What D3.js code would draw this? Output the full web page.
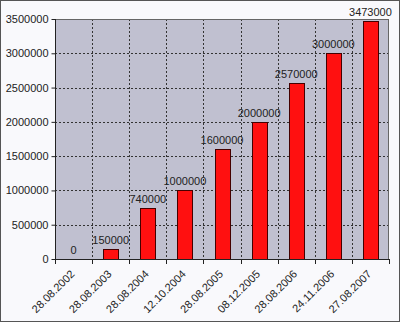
<!DOCTYPE html>
<html><head><meta charset="utf-8">
<script src="https://cdn.jsdelivr.net/npm/d3@7"></script>
<style>
html,body{margin:0;padding:0;background:#fff;}
svg{display:block;}
text{font-family:"Liberation Sans",Arial,sans-serif;font-size:11px;fill:#222;}
</style></head><body>
<svg id="c" width="400" height="322"></svg>
<script>
const categories = ["28.08.2002","28.08.2003","28.08.2004","12.10.2004","28.08.2005","08.12.2005","28.08.2006","24.11.2006","27.08.2007"];
const values = [0,150000,740000,1000000,1600000,2000000,2570000,3000000,3473000];
const yTicks = [0,500000,1000000,1500000,2000000,2500000,3000000,3500000];

const svg = d3.select("#c");
const W=400,H=322;
svg.append("rect").attr("x",0.5).attr("y",0.5).attr("width",W-1).attr("height",H-1)
  .attr("fill","#f9f9fc").attr("stroke","#555");

const m={l:55,t:19,r:389,b:259};
const defs=svg.append("defs");
const pat=defs.append("pattern").attr("id","dither").attr("width",2).attr("height",2).attr("patternUnits","userSpaceOnUse");
pat.append("rect").attr("width",2).attr("height",2).attr("fill","#bcbcec");
pat.append("rect").attr("x",0).attr("y",0).attr("width",1).attr("height",1).attr("fill","#c4c4b4");
pat.append("rect").attr("x",1).attr("y",1).attr("width",1).attr("height",1).attr("fill","#c4c4b4");

const x=d3.scaleBand().domain(categories).range([m.l,m.r]).paddingInner(0).paddingOuter(0);
const y=d3.scaleLinear().domain([0,3500000]).range([m.b,m.t]);

svg.append("rect").attr("x",m.l).attr("y",m.t).attr("width",m.r-m.l).attr("height",m.b-m.t).attr("fill","#c0c0d0");

// horizontal grid
svg.append("g").selectAll("line").data(yTicks.slice(1)).join("line")
  .attr("x1",m.l).attr("x2",m.r).attr("y1",d=>Math.round(y(d))+0.5).attr("y2",d=>Math.round(y(d))+0.5)
  .attr("stroke","#333").attr("stroke-dasharray","2,2");
// vertical grid at category boundaries
svg.append("g").selectAll("line").data(categories.slice(1)).join("line")
  .attr("x1",d=>Math.round(x(d))+0.5).attr("x2",d=>Math.round(x(d))+0.5).attr("y1",m.t).attr("y2",m.b)
  .attr("stroke","#333").attr("stroke-dasharray","2,2");

// frame
svg.append("rect").attr("x",m.l+0.5).attr("y",m.t+0.5).attr("width",m.r-m.l-1).attr("height",m.b-m.t)
  .attr("fill","none").attr("stroke","#666");

// bars
const bw=15;
svg.append("g").selectAll("rect").data(values).join("rect")
  .attr("x",(d,i)=>Math.round(x(categories[i])+x.bandwidth()/2-bw/2)+0.5)
  .attr("y",d=>Math.round(y(d))+0.5)
  .attr("width",bw).attr("height",d=>Math.max(0,Math.round(y(0))-Math.round(y(d))))
  .attr("fill","#ff1010").attr("stroke","#400").attr("stroke-width",1)
  .style("display",d=>d>0?null:"none");

// value labels
svg.append("g").selectAll("text").data(values).join("text")
  .attr("x",(d,i)=>x(categories[i])+x.bandwidth()/2)
  .attr("y",d=>y(d)-5)
  .attr("text-anchor","middle").text(d=>d);

// y axis
const ya=d3.axisLeft(y).tickValues(yTicks).tickSize(4).tickPadding(3).tickFormat(d=>d);
const gy=svg.append("g").attr("transform",`translate(${m.l+0.5},0)`).call(ya);
gy.select(".domain").attr("stroke","#222").attr("d",`M0,${m.t}V${m.b}`);
gy.selectAll(".tick line").attr("stroke","#222");
gy.selectAll("text").style("font-size","11px").attr("fill","#222");

// x axis
svg.append("line").attr("x1",m.l).attr("x2",m.r).attr("y1",m.b+0.5).attr("y2",m.b+0.5).attr("stroke","#222");
const bounds=categories.map(c=>x(c)).concat([m.r]);
svg.append("g").selectAll("line").data(bounds).join("line")
  .attr("x1",d=>Math.round(d)+0.5).attr("x2",d=>Math.round(d)+0.5).attr("y1",m.b).attr("y2",m.b+5).attr("stroke","#222");
svg.append("g").selectAll("text").data(categories).join("text")
  .attr("transform",d=>`translate(${x(d)+x.bandwidth()/2-1},${m.b+13}) rotate(-45)`)
  .attr("text-anchor","end").attr("dy","0.35em").text(d=>d);
</script>
</body></html>
